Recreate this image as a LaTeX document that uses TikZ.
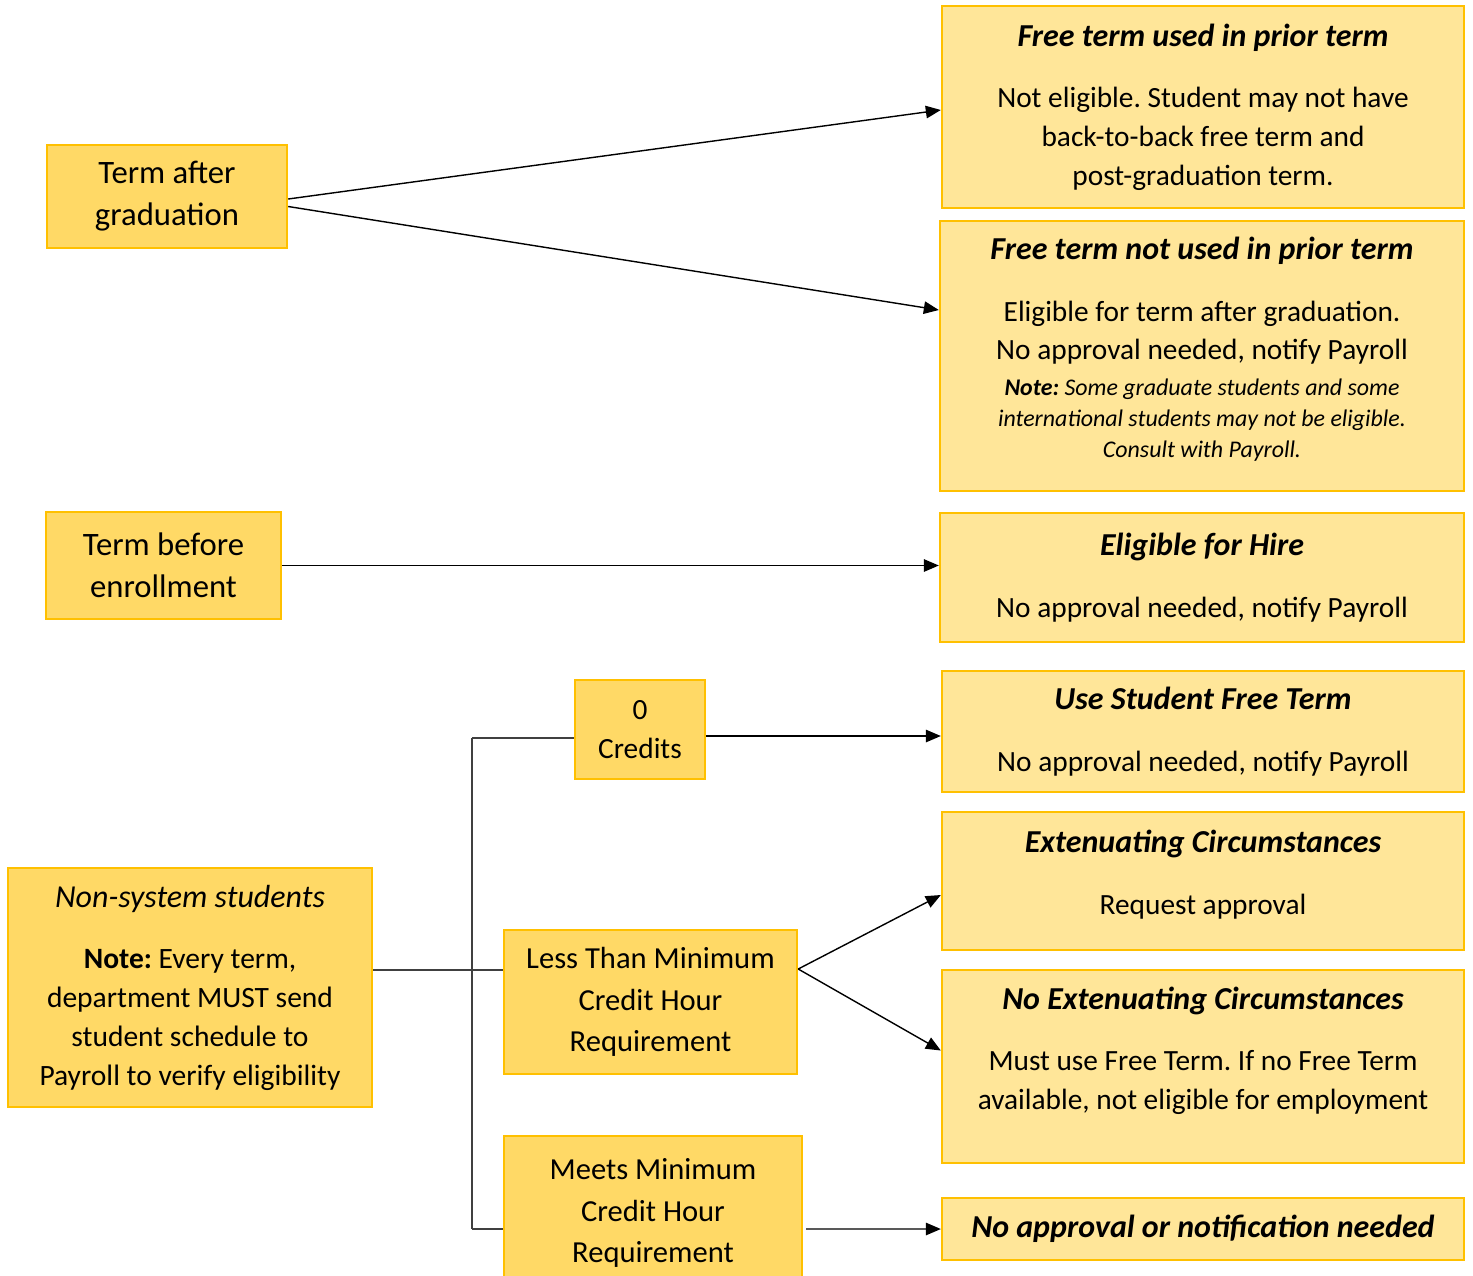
\documentclass[tikz,border=0pt]{standalone}
\usepackage{fontspec}
\setmainfont{Carlito}
\usetikzlibrary{arrows.meta, positioning}
\definecolor{goldline}{HTML}{FFC000}
\definecolor{golddark}{HTML}{FFD966}
\definecolor{goldlight}{HTML}{FFE699}
\tikzset{
  lbox/.style ={rectangle, draw=goldline, line width=1.4pt, fill=golddark,
                align=center, inner sep=2pt, font=\fontsize{18.6}{23.8}\selectfont},
  midbox/.style={lbox, font=\fontsize{17.4}{23.5}\selectfont},
  rbox/.style ={lbox, fill=goldlight, minimum width=10.44cm,
                font=\fontsize{16.7}{22.1}\selectfont},
  arr/.style  ={-{Triangle[length=3mm, width=2.5mm]}, line width=0.8pt},
  tree/.style ={line width=0.7pt, draw=black!75}
}
\newcommand{\hdr}[1]{{\fontsize{18.2}{22.1}\selectfont\bfseries\itshape #1}}
\newcommand{\notefont}{\fontsize{13.6}{17.6}\selectfont\itshape}
\frenchspacing
\begin{document}
\begin{tikzpicture}[x=0.02cm, y=-0.02cm]
    \useasboundingbox (0,0) rectangle (1473,1275);
    % left column
    \node[lbox, minimum width=4.8cm, minimum height=2.06cm] (after) at (167,196.5) {Term after\\graduation};
    \node[lbox, minimum width=4.7cm, minimum height=2.14cm] (before) at (163.5,565.5) {Term before\\enrollment};
    \node[lbox, minimum width=7.28cm, minimum height=4.78cm, font=\fontsize{16.8}{22.1}\selectfont] (nonsys) at (190,987.5)
        {{\fontsize{18.2}{22.1}\selectfont\itshape Non-system students}\\[13pt]\textbf{Note:} Every term,\\department MUST send\\student schedule to\\Payroll to verify eligibility};
    % middle column
    \node[lbox, minimum width=2.6cm, minimum height=1.98cm, font=\fontsize{16.7}{22.1}\selectfont] (zero) at (640,729.5) {0\\Credits};
    \node[midbox, minimum width=5.86cm, minimum height=2.88cm] (less) at (650.5,1002)
        {Less Than Minimum\\Credit Hour\\Requirement};
    \node[midbox, minimum width=5.96cm, minimum height=3.08cm] (meets) at (653,1213)
        {Meets Minimum\\Credit Hour\\Requirement};
    % right column
    \node[rbox, minimum height=4.04cm] (used) at (1203,107)
        {\hdr{Free term used in prior term}\\[13pt]Not eligible. Student may not have\\back-to-back free term and\\post-graduation term.};
    \node[rbox, minimum width=10.48cm, minimum height=5.4cm, text depth=10pt] (notused) at (1202,356)
        {\hdr{Free term not used in prior term}\\[13pt]Eligible for term after graduation.\\No approval needed, notify Payroll\\[-1.7pt]
         {\notefont\textbf{Note:} Some graduate students and some}\\[-4.5pt]{\notefont international students may not be eligible.}\\[-4.5pt]{\notefont Consult with Payroll.}};
    \node[rbox, minimum width=10.48cm, minimum height=2.58cm] (hire) at (1202,577.5)
        {\hdr{Eligible for Hire}\\[13pt]No approval needed, notify Payroll};
    \node[rbox, minimum height=2.42cm] (free) at (1203,731.5)
        {\hdr{Use Student Free Term}\\[13pt]No approval needed, notify Payroll};
    \node[rbox, minimum height=2.76cm, text depth=10pt] (extc) at (1203,881)
        {\hdr{Extenuating Circumstances}\\[13pt]Request approval};
    \node[rbox, minimum height=3.86cm, text depth=21pt] (noext) at (1203,1066.5)
        {\hdr{No Extenuating Circumstances}\\[13pt]Must use Free Term. If no Free Term\\available, not eligible for employment};
    \node[rbox, minimum height=1.24cm] (noappr) at (1203,1229)
        {\hdr{No approval or notification needed}};
    % branch points
    \coordinate (junc) at (472,970);
    \coordinate (jtop) at (472,738);
    \coordinate (jbot) at (472,1229);
    \coordinate (zout) at ([yshift=-0.13cm]zero.east);
    \coordinate (lout) at ([yshift=0.66cm]less.east);
    % connectors
    \draw[arr] ([yshift=-0.05cm]after.east) -- ([yshift=-0.06cm]used.west);
    \draw[arr] ([yshift=-0.2cm]after.east) -- ([yshift=0.92cm]notused.west);
    \draw[arr] (before.east) -- (hire.west |- before.east);
    \draw[arr] (zout) -- (free.west |- zout);
    \draw[tree] (nonsys.east |- junc) -- (less.west |- junc);
    \draw[tree] (jtop) -- (jbot);
    \draw[tree] (jtop) -- (zero.west |- jtop);
    \draw[tree] (jbot) -- (meets.west |- jbot);
    \draw[arr] (lout) -- ([yshift=-0.28cm]extc.west);
    \draw[arr] (lout) -- ([yshift=0.32cm]noext.west);
    \draw[arr] ([xshift=0.06cm,yshift=-0.32cm]meets.east) -- (noappr.west);
\end{tikzpicture}
\end{document}
